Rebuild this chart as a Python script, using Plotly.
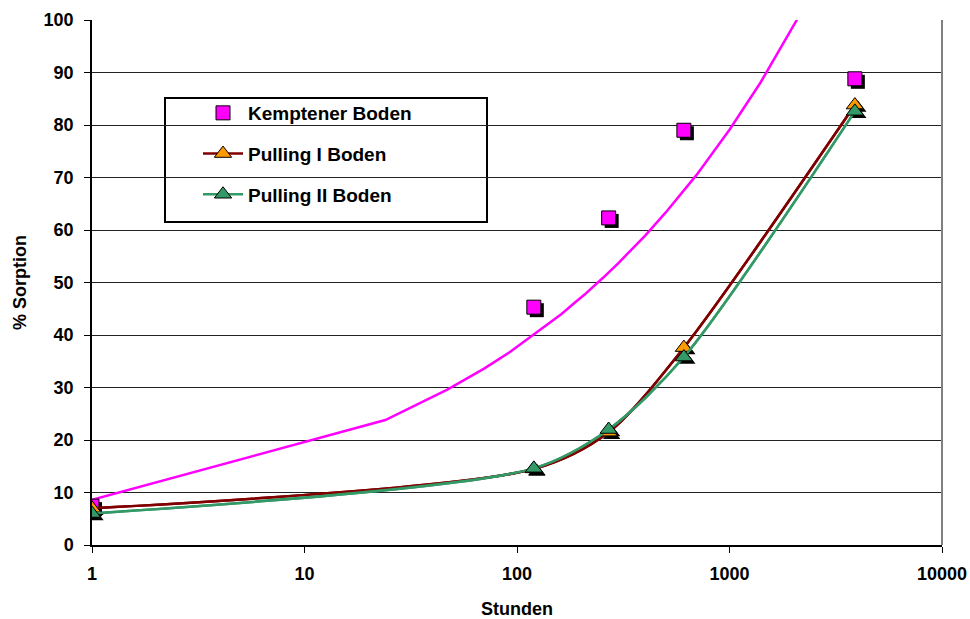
import plotly.graph_objects as go

# Data
hours = [1, 120, 270, 610, 3890]
kemptener = [7.4, 45.3, 62.3, 79.0, 88.8]
pulling_1 = [7.0, 14.5, 21.5, 37.6, 83.8]
pulling_2 = [6.0, 14.6, 22.0, 35.8, 82.6]

# Power trendline of Kemptener Boden
trend_x = [1, 24, 47, 70, 93, 116, 139, 162, 185, 208, 254, 300, 400, 500, 700, 1000, 1400, 2000, 2100]
trend_y = [8.6, 23.8, 29.6, 33.6, 36.8, 39.6, 41.9, 44.0, 46.0, 47.7, 50.9, 53.7, 58.9, 63.3, 70.5, 79.1, 88.1, 98.8, 100.4]

x_ticks = [1, 10, 100, 1000, 10000]
x_tick_text = ["1", "10", "100", "1000", "10000"]
y_ticks = [0, 10, 20, 30, 40, 50, 60, 70, 80, 90, 100]

FONT = "Liberation Sans, Arial, sans-serif"
PINK = "#FF00FF"
DARKRED = "#800000"
ORANGE = "#FF9900"
GREEN = "#339966"

W, H = 970, 619
L, R, T, B = 92, 28, 20, 74
PW = W - L - R
PH = H - T - B

def px_x(p):  # window x -> paper x
    return (p - L) / PW
def px_y(p):  # window y -> paper y
    return (H - B - p) / PH

# shadow offset (approx. 3px right/down)
DEC_PX = PW / 4.0
Y_PX = PH / 100.0
def sx(xs):
    return [v * 10 ** (3 / DEC_PX) for v in xs]
def sy(ys):
    return [v - 3 / Y_PX for v in ys]

fig = go.Figure()

# trendline
fig.add_trace(go.Scatter(x=trend_x, y=trend_y, mode="lines",
                         line=dict(color=PINK, width=2.5), showlegend=False,
                         hoverinfo="skip"))

# lines for Pulling series
fig.add_trace(go.Scatter(x=hours, y=pulling_1, mode="lines",
                         line=dict(color=DARKRED, width=2.5, shape="spline", smoothing=0.8),
                         showlegend=False))
fig.add_trace(go.Scatter(x=hours, y=pulling_2, mode="lines",
                         line=dict(color=GREEN, width=2.5, shape="spline", smoothing=0.8),
                         showlegend=False))

# shadows
fig.add_trace(go.Scatter(x=sx(hours), y=sy(kemptener), mode="markers",
                         marker=dict(symbol="square", size=14, color="black"),
                         showlegend=False, hoverinfo="skip"))
fig.add_trace(go.Scatter(x=sx(hours), y=sy(pulling_1), mode="markers",
                         marker=dict(symbol="triangle-up", size=15, color="black"),
                         showlegend=False, hoverinfo="skip"))
fig.add_trace(go.Scatter(x=sx(hours), y=sy(pulling_2), mode="markers",
                         marker=dict(symbol="triangle-up", size=15, color="black"),
                         showlegend=False, hoverinfo="skip"))

# markers / legend entries
fig.add_trace(go.Scatter(x=hours, y=kemptener, mode="markers", name="<b>Kemptener Boden</b>",
                         legendgroup="a",
                         marker=dict(symbol="square", size=14, color=PINK,
                                     line=dict(color="black", width=1))))
fig.add_trace(go.Scatter(x=hours, y=pulling_1, mode="lines+markers", name="<b>Pulling I Boden</b>",
                         legendgroup="b",
                         line=dict(color=DARKRED, width=2.5, shape="spline", smoothing=0.8),
                         marker=dict(symbol="triangle-up", size=15, color=ORANGE,
                                     line=dict(color="black", width=1))))
fig.add_trace(go.Scatter(x=hours, y=pulling_2, mode="lines+markers", name="<b>Pulling II Boden</b>",
                         legendgroup="c",
                         line=dict(color=GREEN, width=2.5, shape="spline", smoothing=0.8),
                         marker=dict(symbol="triangle-up", size=15, color=GREEN,
                                     line=dict(color="black", width=1))))

fig.update_layout(
    width=W, height=H,
    margin=dict(l=L, r=R, t=T, b=B),
    paper_bgcolor="white", plot_bgcolor="white",
    font=dict(family=FONT, size=18, color="black"),
    showlegend=True,
    legend=dict(x=px_x(198), y=px_y(94), xanchor="left", yanchor="top",
                bgcolor="rgba(0,0,0,0)", borderwidth=0,
                font=dict(family=FONT, size=19, color="black"),
                tracegroupgap=13, itemwidth=40),
    shapes=[
        dict(type="rect", xref="paper", yref="paper",
             x0=px_x(165), x1=px_x(487), y0=px_y(222), y1=px_y(98),
             line=dict(color="black", width=2), fillcolor="white", layer="below"),
        dict(type="line", xref="paper", yref="paper", x0=1, x1=1, y0=0, y1=1,
             line=dict(color="#808080", width=2)),
    ],
)

fig.update_xaxes(type="log", range=[0, 4], tickvals=x_ticks,
                 ticktext=["<b>%s</b>" % t for t in x_tick_text],
                 showgrid=False, showline=True, linecolor="black", linewidth=1.5,
                 ticks="outside", ticklen=6, tickcolor="black", ticklabelstandoff=6,
                 ticklabeloverflow="allow",
                 tickfont=dict(family=FONT, size=18),
                 title=dict(text="<b>Stunden</b>", font=dict(family=FONT, size=18), standoff=25),
                 automargin=False, zeroline=False)
fig.update_yaxes(range=[0, 100], tickvals=y_ticks,
                 ticktext=["<b>%d</b>" % t for t in y_ticks],
                 showgrid=True, gridcolor="#222222", gridwidth=1,
                 showline=True, linecolor="black", linewidth=1.5,
                 ticks="outside", ticklen=6, tickcolor="black", ticklabelstandoff=7,
                 tickfont=dict(family=FONT, size=18),
                 title=dict(text="<b>% Sorption</b>", font=dict(family=FONT, size=18), standoff=12),
                 automargin=False, zeroline=False)

fig.write_html("out.html", config={"displayModeBar": False},
               post_script="document.body.style.margin='0';document.body.style.overflow='hidden';")
